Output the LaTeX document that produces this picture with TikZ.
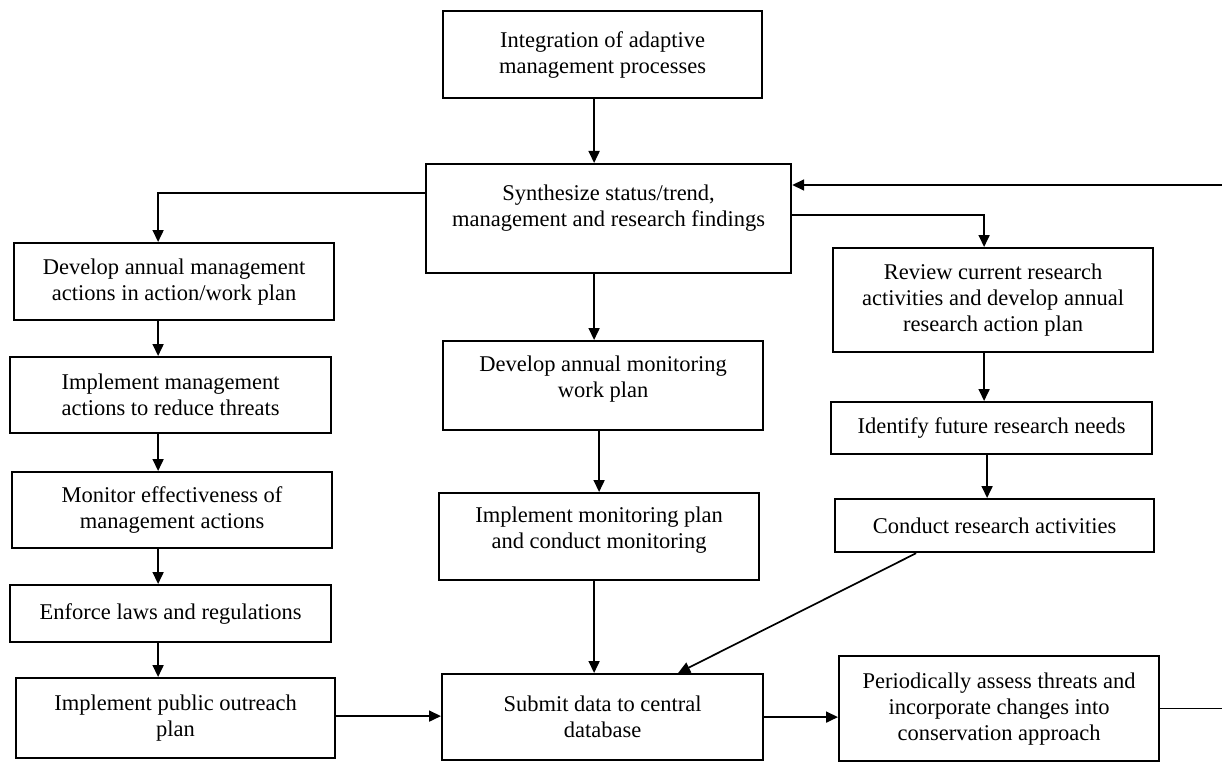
\documentclass[tikz,border=0pt]{standalone}
\usepackage{fontspec}
\setmainfont{Liberation Serif}
\usetikzlibrary{arrows.meta,calc}
\begin{document}
\begin{tikzpicture}[x=1pt,y=-1pt,
  box/.style={draw, line width=2.2pt, anchor=north west, inner sep=0pt, align=center,
    font=\fontsize{22.5}{26}\selectfont},
  arr/.style={line width=1.7pt, -{Triangle[length=12pt,width=11pt]}},
  ln/.style={line width=1.7pt}]
\useasboundingbox (0,0) rectangle (1222,762);
% boxes
\node[box, minimum width=319pt, minimum height=87pt] (integ) at (442,10) {Integration of adaptive\\management processes};
\node[box, minimum width=365pt, minimum height=109pt] (syn) at (425,163) {Synthesize status/trend,\\management and research findings\\\mbox{}};
\node[box, minimum width=320pt, minimum height=77pt] (dam) at (13,242) {Develop annual management\\actions in action/work plan};
\node[box, minimum width=321pt, minimum height=76pt] (imm) at (9,356) {Implement management\\actions to reduce threats};
\node[box, minimum width=320pt, minimum height=76pt] (mon) at (11,471) {Monitor effectiveness of\\management actions};
\node[box, minimum width=321pt, minimum height=57pt] (enf) at (9,584) {Enforce laws and regulations};
\node[box, minimum width=319pt, minimum height=80pt] (out) at (15,677) {Implement public outreach\\plan};
\node[box, minimum width=320pt, minimum height=89pt] (dmon) at (442,340) {Develop annual monitoring\\work plan\\[-8pt]\mbox{}};
\node[box, minimum width=320pt, minimum height=87pt] (imon) at (438,492) {Implement monitoring plan\\and conduct monitoring\\[-8pt]\mbox{}};
\node[box, minimum width=321pt, minimum height=86pt] (sub) at (441,673) {Submit data to central\\database};
\node[box, minimum width=320pt, minimum height=104pt] (rev) at (832,247) {Review current research\\activities and develop annual\\research action plan};
\node[box, minimum width=321pt, minimum height=52pt] (idf) at (830,401) {Identify future research needs};
\node[box, minimum width=319pt, minimum height=53pt] (con) at (834,498) {Conduct research activities};
\node[box, minimum width=320pt, minimum height=105pt] (per) at (838,655) {Periodically assess threats and\\incorporate changes into\\conservation approach};
\coordinate (rin) at (1222,185);
\coordinate (redge) at (1222,0);
% connectors
\draw[arr] ([xshift=-8.5pt]integ.south) -- ([xshift=-8.5pt]integ.south |- syn.north);
\draw[arr] ([yshift=25.5pt]syn.west) -| ([xshift=-16pt]dam.north);
\draw[arr] ([xshift=-16pt]dam.south) -- ([xshift=-16pt]dam.south |- imm.north);
\draw[arr] ([xshift=-16pt]dam.south |- imm.south) -- ([xshift=-16pt]dam.south |- mon.north);
\draw[arr] ([xshift=-16pt]dam.south |- mon.south) -- ([xshift=-16pt]dam.south |- enf.north);
\draw[arr] ([xshift=-16pt]dam.south |- enf.south) -- ([xshift=-16pt]dam.south |- out.north);
\draw[arr] ([yshift=2pt]out.east) -- ([yshift=2pt]out.east -| sub.west);
\draw[arr] ([xshift=-14.5pt]syn.south) -- ([xshift=-14.5pt]syn.south |- dmon.north);
\draw[arr] (imon.north |- dmon.south) -- (imon.north);
\draw[arr] ([xshift=-5pt]imon.south) -- ([xshift=-5pt]imon.south |- sub.north);
\draw[arr] ([xshift=-78.5pt]con.south) -- ([xshift=75.5pt]sub.north);
\draw[arr] (sub.east) -- (sub.east -| per.west);
\draw[ln] (per.east) -- (per.east -| redge);
\draw[arr] (rin) -- (rin -| syn.east);
\draw[arr] ([yshift=3.5pt]syn.east) -| ([xshift=-9pt]rev.north);
\draw[arr] ([xshift=-9pt]rev.south) -- ([xshift=-9pt]rev.south |- idf.north);
\draw[arr] ([xshift=-7.5pt]con.north |- idf.south) -- ([xshift=-7.5pt]con.north);
\end{tikzpicture}
\end{document}
